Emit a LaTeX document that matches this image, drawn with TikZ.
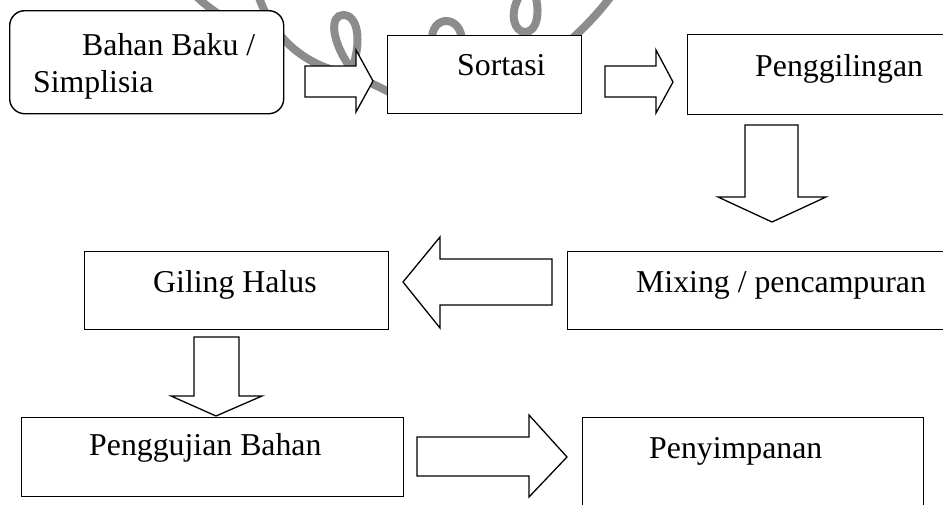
\documentclass[tikz,border=0pt]{standalone}
\usepackage{fontspec}
\setmainfont{Liberation Serif}
\begin{document}
\begin{tikzpicture}[x=1pt,y=-1pt,
  box/.style={draw,line width=1.4pt,fill=white,inner sep=0pt,anchor=north west},
  lbl/.style={anchor=base west,inner sep=0pt,font=\fontsize{31.8}{38}\selectfont},
  blk/.style={draw,line width=1.3pt,fill=white,line join=miter},
  wm/.style={line width=8pt,color=black!45,line cap=round}]
\useasboundingbox (0,0) rectangle (943,504);
\clip (0,0) rectangle (943,504);
% watermark
\draw[wm] (195,-5) .. controls (205,5) and (215,12) .. (225,18);
\draw[wm] (258,-5) .. controls (272,35) and (300,62) .. (340,72) .. controls (360,77) and (375,85) .. (395,95);
\draw[wm] (352,70) .. controls (330,40) and (330,15) .. (343,15) .. controls (358,15) and (362,40) .. (352,70);
\draw[wm] (432,42) .. controls (430,14) and (462,14) .. (462,42);
\draw[wm] (520,-5) .. controls (508,15) and (515,32) .. (525,32) .. controls (538,32) and (540,10) .. (535,-5);
\draw[wm] (612,-5) .. controls (597,15) and (582,30) .. (565,45);
% boxes
\node[box,rounded corners=15pt,minimum width=274pt,minimum height=103pt] (b1) at (9,10) {};
\node[box,minimum width=194pt,minimum height=78pt] (b2) at (387,35) {};
\node[box,minimum width=263pt,minimum height=80pt] (b3) at (687,34) {};
\node[box,minimum width=383pt,minimum height=78pt] (b4) at (567,251) {};
\node[box,minimum width=304pt,minimum height=78pt] (b5) at (84,251) {};
\node[box,minimum width=382pt,minimum height=79pt] (b6) at (21,417) {};
\node[box,minimum width=341pt,minimum height=100pt] (b7) at (582,417) {};
% labels
\node[lbl] (t1a) at (82,55) {Bahan Baku /};
\node[lbl] (t1b) at (33,92) {Simplisia};
\node[lbl] (t2) at (457,75) {Sortasi};
\node[lbl] (t3) at (755,76) {Penggilingan};
\node[lbl] (t4) at (636,292) {Mixing / pencampuran};
\node[lbl] (t5) at (153,292) {Giling Halus};
\node[lbl] (t6) at (89,455) {Penggujian Bahan};
\node[lbl] (t7) at (649,458) {Penyimpanan};
% block arrows
\draw[blk] (305,66) -- (356,66) -- (356,50) -- (373,81) -- (356,112) -- (356,97) -- (305,97) -- cycle;
\draw[blk] (605,66) -- (656,66) -- (656,50) -- (673,82) -- (656,113) -- (656,97) -- (605,97) -- cycle;
\draw[blk] (745,125) -- (798,125) -- (798,197) -- (826,197) -- (772,222) -- (718,197) -- (745,197) -- cycle;
\draw[blk] (552,259) -- (440,259) -- (440,237) -- (403,282) -- (440,328) -- (440,305) -- (552,305) -- cycle;
\draw[blk] (194,337) -- (239,337) -- (239,396) -- (262,396) -- (216,416) -- (171,396) -- (194,396) -- cycle;
\draw[blk] (417,437) -- (529,437) -- (529,415) -- (567,457) -- (529,497) -- (529,476) -- (417,476) -- cycle;
\end{tikzpicture}
\end{document}
